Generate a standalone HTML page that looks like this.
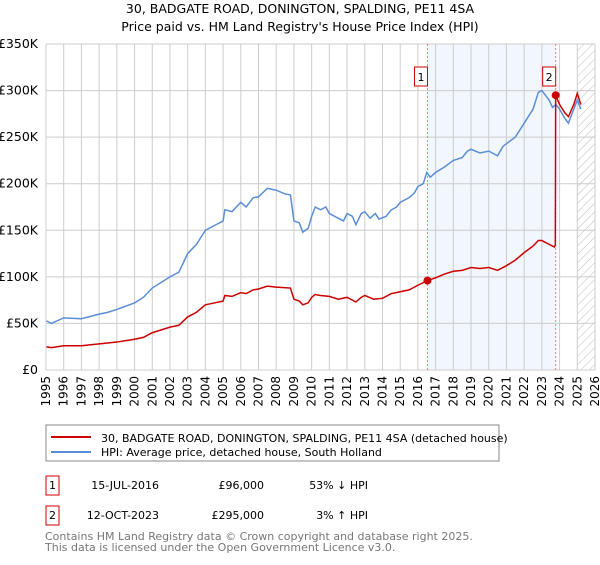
<!DOCTYPE html>
<html><head><meta charset="utf-8"><style>
body{margin:0;background:#fff;font-family:"Liberation Sans","DejaVu Sans",sans-serif}
svg text{font-family:"DejaVu Sans","Liberation Sans",sans-serif}
</style></head><body>
<svg id="c" width="600" height="560" viewBox="0 0 600 560" xmlns="http://www.w3.org/2000/svg">
<defs><pattern id="hatch" width="6" height="6" patternUnits="userSpaceOnUse" patternTransform="rotate(45)"><line x1="0" y1="0" x2="0" y2="6" stroke="#bbb" stroke-width="1"/></pattern></defs>
<text x="300" y="13" text-anchor="middle" font-size="12.5">30, BADGATE ROAD, DONINGTON, SPALDING, PE11 4SA</text>
<text x="300" y="31" text-anchor="middle" font-size="12.5">Price paid vs. HM Land Registry's House Price Index (HPI)</text>
<g id="plot"></g>
<rect x="46" y="425" width="453" height="36" fill="#fff" stroke="#888"/>
<line x1="51" y1="437" x2="91" y2="437" stroke="#cc0000" stroke-width="2"/>
<text x="101" y="442" font-size="11">30, BADGATE ROAD, DONINGTON, SPALDING, PE11 4SA (detached house)</text>
<line x1="51" y1="452" x2="91" y2="452" stroke="#5b8ed6" stroke-width="2"/>
<text x="101" y="456" font-size="11">HPI: Average price, detached house, South Holland</text>
<g>
<rect x="46" y="476" width="13" height="19" fill="#fff" stroke="#cc0000"/>
<text x="52.5" y="489" font-size="11" text-anchor="middle">1</text>
<text x="159" y="489" font-size="11" text-anchor="end">15-JUL-2016</text>
<text x="264" y="489" font-size="11" text-anchor="end">£96,000</text>
<text x="368" y="489" font-size="11" text-anchor="end">53% ↓ HPI</text></g>
<g>
<rect x="46" y="506" width="13" height="19" fill="#fff" stroke="#cc0000"/>
<text x="52.5" y="519" font-size="11" text-anchor="middle">2</text>
<text x="159" y="519" font-size="11" text-anchor="end">12-OCT-2023</text>
<text x="264" y="519" font-size="11" text-anchor="end">£295,000</text>
<text x="368" y="519" font-size="11" text-anchor="end">3% ↑ HPI</text></g>
<text x="45" y="540" font-size="11" fill="#777">Contains HM Land Registry data © Crown copyright and database right 2025.</text>
<text x="45" y="551" font-size="11" fill="#777">This data is licensed under the Open Government Licence v3.0.</text>
</svg>
<script>
const yTicks=[0,50,100,150,200,250,300,350];
const yLabels=["£0","£50K","£100K","£150K","£200K","£250K","£300K","£350K"];
const years=[1995,1996,1997,1998,1999,2000,2001,2002,2003,2004,2005,2006,2007,2008,2009,2010,2011,2012,2013,2014,2015,2016,2017,2018,2019,2020,2021,2022,2023,2024,2025,2026];
const hpiT=[1995,1995.3,1996,1997,1998,1998.5,1999,2000,2000.5,2001,2002,2002.5,2003,2003.5,2004,2004.5,2005,2005.1,2005.5,2006,2006.3,2006.7,2007,2007.5,2008,2008.5,2008.8,2009,2009.3,2009.5,2009.8,2010,2010.2,2010.5,2010.8,2011,2011.5,2011.8,2012,2012.3,2012.5,2012.8,2013,2013.3,2013.6,2013.8,2014.2,2014.5,2014.8,2015,2015.5,2015.8,2016,2016.3,2016.5,2016.7,2017,2017.5,2018,2018.5,2018.8,2019,2019.5,2020,2020.5,2020.8,2021,2021.5,2022,2022.5,2022.8,2023,2023.4,2023.6,2023.8,2024,2024.3,2024.5,2024.8,2025,2025.2];
const hpiV=[53,50,56,55,60,62,65,72,78,88,100,105,125,135,150,155,160,172,170,180,175,185,186,195,193,189,188,160,158,148,152,165,175,172,175,168,163,160,168,165,156,168,170,163,168,162,165,172,175,180,185,190,197,200,212,207,212,218,225,228,235,237,233,235,230,240,243,250,265,280,298,300,290,282,285,280,270,265,280,290,280];
const priceT=[1995,1995.3,1996,1997,1998,1999,2000,2000.5,2001,2002,2002.5,2003,2003.5,2004,2004.5,2005,2005.1,2005.5,2006,2006.3,2006.7,2007,2007.5,2008,2008.8,2009,2009.3,2009.5,2009.8,2010,2010.2,2010.5,2011,2011.5,2012,2012.5,2012.8,2013,2013.5,2014,2014.5,2015,2015.5,2016,2016.54,2017,2017.5,2018,2018.5,2019,2019.5,2020,2020.5,2021,2021.5,2022,2022.5,2022.8,2023,2023.4,2023.7,2023.76,2023.78,2024,2024.3,2024.5,2024.8,2025,2025.2];
const priceV=[25,24,26,26,28,30,33,35,40,46,48,57,62,70,72,74,80,79,83,82,86,87,90,89,88,76,74,70,72,78,81,80,79,76,78,73,78,80,76,77,82,84,86,91,96,99,103,106,107,110,109,110,107,112,118,126,133,139,139,135,132,134,295,285,276,272,285,297,285];
const salesT=[2016.54,2023.78];
const salesV=[96,295];
const salesLbl=["1","2"];
const X0=46,X1=595,Y0=370,Y1=44;
const x=t=>X0+(t-1995)/(2026-1995)*(X1-X0);
const y=v=>Y0-v/350*(Y0-Y1);
const g=document.getElementById('plot');
const NS="http://www.w3.org/2000/svg";
function mk(tag,at){const e=document.createElementNS(NS,tag);for(const k in at)e.setAttribute(k,at[k]);g.appendChild(e);return e;}
let e;
e=mk('rect',{x:x(salesT[0]),y:Y1,width:x(salesT[1])-x(salesT[0]),height:Y0-Y1,fill:'#f2f6fd'});


e=mk('rect',{x:x(2025),y:Y1,width:X1-x(2025),height:Y0-Y1,fill:'url(#hatch)'});


years.forEach(t=>{e=mk('line',{x1:x(t),x2:x(t),y1:Y1,y2:Y0,stroke:'#ccc','stroke-width':1});


e=mk('text',{x:0,y:0,'font-size':12,'text-anchor':'end',transform:`translate(${x(t)+4},${Y0+6}) rotate(-90)`});e.textContent=t;

});
yTicks.forEach((v,i)=>{e=mk('line',{x1:X0,x2:X1,y1:y(v),y2:y(v),stroke:'#ccc','stroke-width':1});


e=mk('text',{x:38,y:y(v)+4,'font-size':12.5,'text-anchor':'end'});e.textContent=yLabels[i];

});
salesT.forEach((t,i)=>{e=mk('line',{x1:x(t),x2:x(t),y1:Y1,y2:Y0,stroke:'#f08080','stroke-dasharray':'2,2','stroke-width':1});

});
e=mk('polyline',{points:hpiT.map((t,i)=>x(t)+','+y(hpiV[i])).join(' '),fill:'none',stroke:'#5b8ed6','stroke-width':1.5});


e=mk('polyline',{points:priceT.map((t,i)=>x(t)+','+y(priceV[i])).join(' '),fill:'none',stroke:'#cc0000','stroke-width':1.5});


salesT.forEach((t,i)=>{e=mk('circle',{cx:x(t),cy:y(salesV[i]),r:4,fill:'#cc0000'});


e=mk('rect',{x:x(t)-13,y:67,width:13,height:19,fill:'#fff',stroke:'#cc0000'});


e=mk('text',{x:x(t)-6.5,y:81,'font-size':11,'text-anchor':'middle'});e.textContent=salesLbl[i];

});
e=mk('line',{x1:X0,x2:X0,y1:Y1,y2:Y0,stroke:'#ccc'});


</script>
</body></html>
